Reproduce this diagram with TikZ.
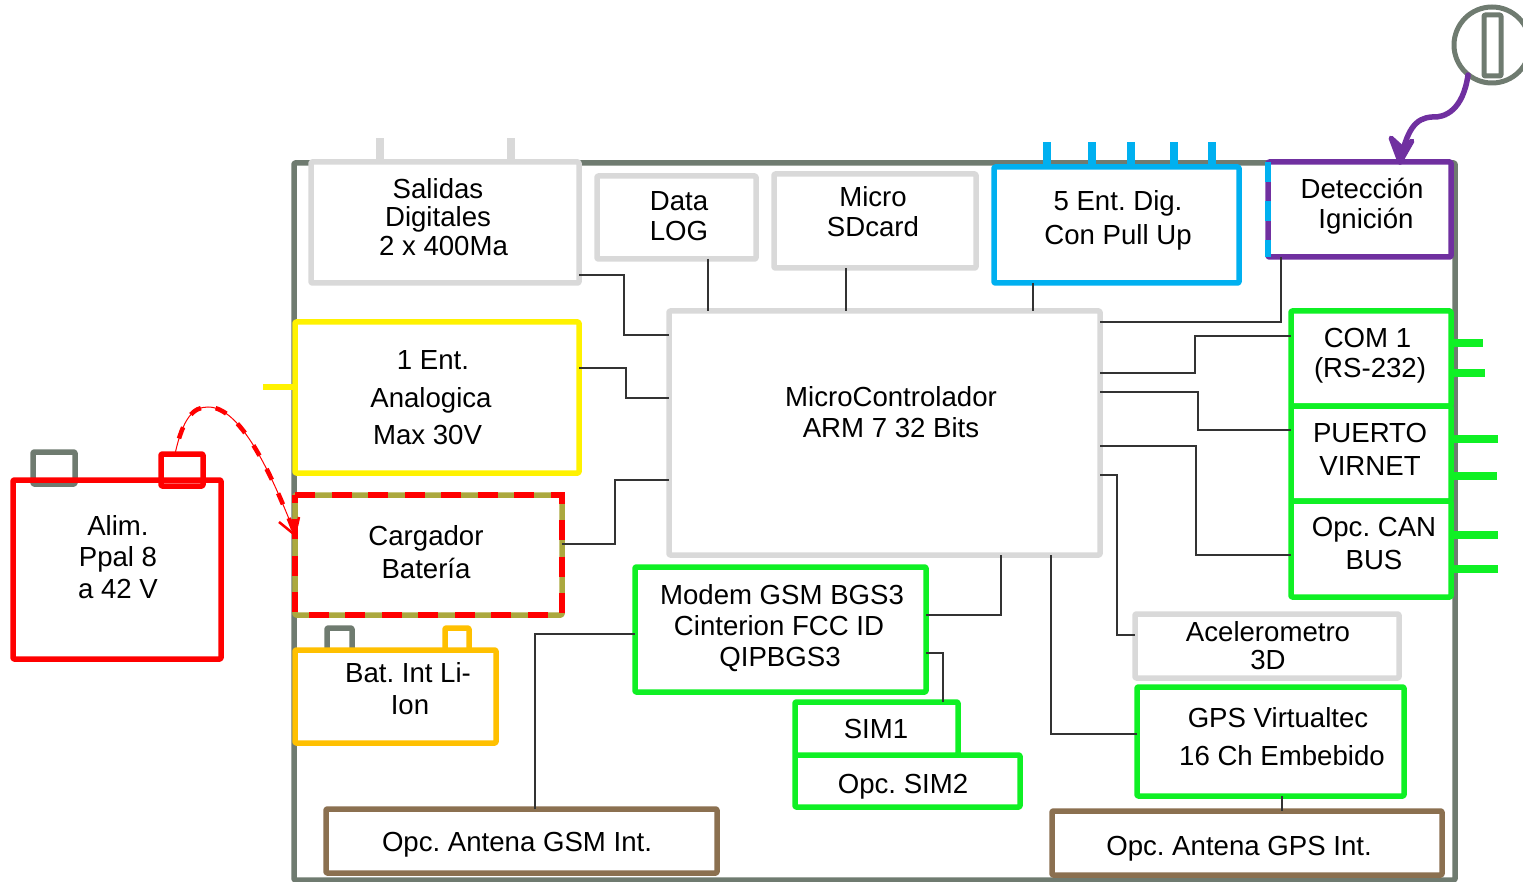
\documentclass[tikz,border=0pt]{standalone}
\usepackage{fontspec}
\setmainfont{Liberation Sans}
\usetikzlibrary{arrows.meta}
\definecolor{frameg}{HTML}{6F7B70}
\definecolor{lgray}{HTML}{D9D9D9}
\definecolor{cy}{HTML}{00B0F0}
\definecolor{pur}{HTML}{7030A0}
\definecolor{grn}{HTML}{0FF024}
\definecolor{brn}{HTML}{8B7050}
\definecolor{amb}{HTML}{FFC000}
\definecolor{oli}{HTML}{ABA83E}
\definecolor{wire}{HTML}{333333}
\tikzset{
  boxb/.style={draw,line width=5.5pt,fill=white,inner sep=0pt,outer sep=0pt,rounded corners=1pt,line join=round},
  nofill/.style={fill=none},
  wirel/.style={draw=wire,line width=1.4pt},
  stubl/.style={line width=7.5pt},
  txt/.style={align=center,inner sep=0pt,text=black}
}
\newcommand\bx[6]{\node[boxb,#6,minimum width={#4-#2},minimum height={#5-#3}] (#1) at ({(#2+#4)/2},{(#3+#5)/2}) {};}
\newcommand\tx[5]{\node[txt,font=\fontsize{27.6}{#4}\selectfont\frenchspacing] (#1) at (#2,#3) {#5};}
\begin{document}
\begin{tikzpicture}[x=1pt,y=-1pt]
\useasboundingbox (0,0) rectangle (1523,882);
\clip (0,0) rectangle (1523,882);
% outer case
\bx{caja}{294}{163}{1455}{880}{draw=frameg}
% stubs
\draw[stubl,lgray] (380,165) -- ++(0,-27);
\draw[stubl,lgray] (511,165) -- ++(0,-27);
\foreach \x in {1047,1092,1131,1174,1212} \draw[stubl,cy] (\x,168) -- ++(0,-26);
% boxes
\bx{sal}{311}{162}{579}{283}{draw=lgray}
\bx{dat}{597}{176}{756}{259}{draw=lgray}
\bx{mic}{774}{174}{976}{268}{draw=lgray}
\bx{ent}{994}{167}{1239}{283}{draw=cy}
\bx{det}{1268}{162}{1451}{257}{draw=pur}
\draw[line width=5.5pt,cy,dash pattern=on 20pt off 19pt] (det.north west) -- (det.south west);
\bx{ana}{295}{322}{579}{473}{draw=yellow}
\bx{mcu}{669}{311}{1100}{555}{draw=lgray}
\bx{com}{1291}{311}{1451}{406}{draw=grn}
\bx{pue}{1291}{406}{1451}{501}{draw=grn}
\bx{can}{1291}{501}{1451}{597}{draw=grn}
\bx{ace}{1135}{614}{1399}{678}{draw=lgray}
\bx{gps}{1137}{687}{1404}{796}{draw=grn}
\bx{mod}{635}{567}{926}{692}{draw=grn}
\bx{simb}{795}{755}{1020}{807}{draw=grn}
\bx{sima}{795}{702}{958}{755}{draw=grn}
\bx{ang}{326}{809}{717}{873}{draw=brn}
\bx{anp}{1052}{811}{1442}{875}{draw=brn}
\bx{tbg}{327}{628}{352}{655}{draw=frameg}
\bx{tby}{445}{628}{469}{655}{draw=amb}
\bx{bat}{295}{650}{496}{743}{draw=amb}
\bx{car}{295}{495}{562}{615}{draw=oli}
\draw[line width=5.5pt,red,dash pattern=on 20pt off 16.5pt] (car.north west) -- (car.north east) -- (car.south east) -- (car.south west) -- cycle;
\bx{tag}{33}{452}{75}{484}{draw=frameg,nofill}
\bx{alim}{13}{480}{221}{659}{draw=red,nofill}
\bx{tar}{161}{454}{203}{486}{draw=red,nofill}
% side stubs
\draw[stubl,grn] (com.east |- 0,343) -- (1483,343);
\draw[stubl,grn] (com.east |- 0,373) -- (1485,373);
\draw[stubl,grn] (pue.east |- 0,439) -- (1498,439);
\draw[stubl,grn] (pue.east |- 0,476) -- (1497,476);
\draw[stubl,grn] (can.east |- 0,535) -- (1498,535);
\draw[stubl,grn] (can.east |- 0,569) -- (1498,569);
\draw[line width=6pt,yellow] (ana.west |- 0,387) -- (263,387);
% wires
\draw[wirel] (sal.east |- 0,275) -| (624,335) -- (mcu.west |- 0,335);
\draw[wirel] (dat.south -| 708,0) -- (mcu.north -| 708,0);
\draw[wirel] (mic.south -| 846,0) -- (mcu.north -| 846,0);
\draw[wirel] (ent.south -| 1033,0) -- (mcu.north -| 1033,0);
\draw[wirel] (det.south -| 1281,0) |- (mcu.east |- 0,322);
\draw[wirel] (mcu.east |- 0,373) -| (1195,336) -- (com.west |- 0,336);
\draw[wirel] (mcu.east |- 0,392) -| (1198,430) -- (pue.west |- 0,430);
\draw[wirel] (mcu.east |- 0,446) -| (1196,555) -- (can.west |- 0,555);
\draw[wirel] (mcu.east |- 0,475) -| (1117,635) -- (ace.west |- 0,635);
\draw[wirel] (mcu.south -| 1051,0) |- (gps.west |- 0,734);
\draw[wirel] (mod.east |- 0,615) -| (mcu.south -| 1001,0);
\draw[wirel] (mod.east |- 0,653) -| (sima.north -| 943,0);
\draw[wirel] (ana.east |- 0,368) -| (626,398) -- (mcu.west |- 0,398);
\draw[wirel] (car.east |- 0,544) -| (615,480) -- (mcu.west |- 0,480);
\draw[wirel] (ang.north -| 535,0) |- (mod.west |- 0,634);
\draw[wirel] (gps.south -| 1282,0) -- (anp.north -| 1282,0);
% key switch
\node[draw=frameg,line width=5pt,circle,minimum size=76pt,inner sep=0pt,outer sep=0pt] (llave) at (1492,45) {};
\bx{ran}{1484}{15}{1501}{76}{draw=frameg,line width=5pt,nofill}
\draw[pur,line width=5.5pt,line cap=round,line join=round] (1468,75) .. controls (1463,110) and (1445,118) .. (1432,117) .. controls (1415,118) and (1407,130) .. (det.north -| 1400,0);
\draw[pur,line width=5pt,line cap=round,line join=round,fill=pur] (1391,138) -- (det.north -| 1400,0) -- (1402,148) -- cycle;
\draw[pur,line width=5pt,line cap=round,line join=round,fill=pur] (1412,141) -- (det.north -| 1400,0) -- (1402,148) -- cycle;
% power curve
\draw[red,line width=1pt] (tar.north -| 175,0) .. controls (183,418) and (193,407) .. (208,407) .. controls (240,407) and (270,470) .. (car.west |- 0,534);
\draw[red,line width=4.5pt,dash pattern=on 12pt off 15pt,dash phase=-16pt] (tar.north -| 175,0) .. controls (183,418) and (193,407) .. (208,407) .. controls (240,407) and (270,470) .. (car.west |- 0,534);
\draw[red,line width=2.5pt] (279,522) -- (car.west |- 0,535);
\draw[red,line width=2.5pt] (299,517) -- (297,526);
% labels
\tx{tsal}{438}{217}{28.5}{Salidas\\Digitales\\\hspace{11pt}2 x 400Ma}
\tx{tdat}{679}{216}{30}{Data\\LOG}
\tx{tmic}{873}{212}{30}{Micro\\SDcard}
\tx{tent}{1118}{220}{34}{5 Ent. Dig.\\Con Pull Up}
\tx{tdet}{1366}{206}{30}{\hspace{-8pt}Detección\\Ignición}
\tx{tana}{431}{398}{37.5}{\hspace{4pt}1 Ent.\\Analogica\\\hspace{-7pt}Max 30V}
\tx{tmcu}{891}{412}{31}{MicroControlador\\ARM 7 32 Bits}
\tx{tcom}{1370}{356}{30}{\hspace{-5pt}COM 1\\(RS-232)}
\tx{tpue}{1370}{449}{33}{PUERTO\\VIRNET}
\tx{tcan}{1374}{543}{33}{Opc. CAN\\BUS}
\tx{tace}{1268}{646}{28}{Acelerometro\\3D}
\tx{tgps}{1280}{737}{38}{\hspace{-4pt}GPS Virtualtec\\\hspace{4pt}16 Ch Embebido}
\tx{tmod}{781}{628}{31}{\hspace{2pt}Modem GSM BGS3\\\hspace{-4pt}Cinterion FCC ID\\\hspace{-2pt}QIPBGS3}
\tx{tsa}{876}{729}{30}{SIM1}
\tx{tsb}{903}{787}{30}{Opc. SIM2}
\tx{tang}{517}{845}{30}{Opc. Antena GSM Int.}
\tx{tanp}{1239}{849}{30}{Opc. Antena GPS Int.}
\tx{tbat}{408}{689}{32}{Bat. Int Li-\\\hspace{4pt}Ion}
\tx{tcar}{426}{552}{33}{Cargador\\Batería}
\tx{talm}{118}{557}{31.5}{Alim.\\Ppal 8\\a 42 V}
\end{tikzpicture}
\end{document}
